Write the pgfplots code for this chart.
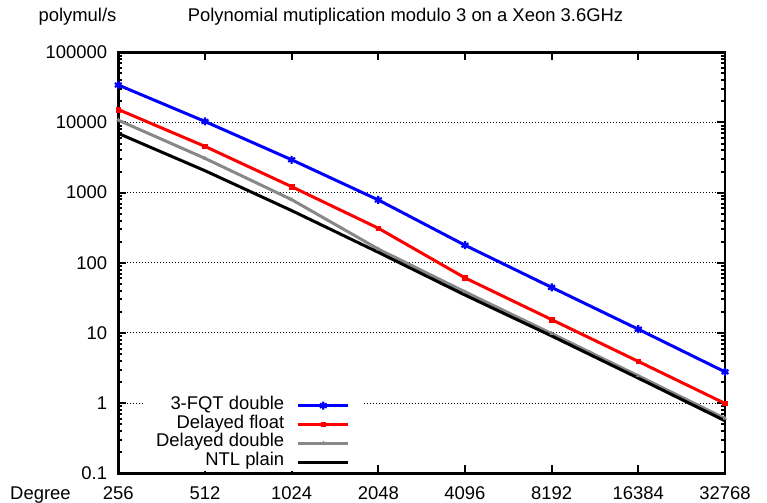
\documentclass[border=0pt]{standalone}
\usepackage{fontspec}
\setmainfont{Liberation Sans}
\usepackage{pgfplots}
\pgfplotsset{compat=1.18}
\definecolor{lgray}{RGB}{136,136,136}
\begin{document}
\begin{tikzpicture}
\fontsize{18.5}{22}\selectfont
\begin{axis}[
  at={(0,0)}, anchor=south west,
  scale only axis, width=606.7bp, height=421bp,
  font=\fontsize{18.5}{22}\selectfont,
  /pgf/number format/assume math mode=true,
  ymode=log, ymin=0.1, ymax=100000,
  xmin=0, xmax=7,
  xtick={0,1,2,3,4,5,6,7},
  xticklabels={256,512,1024,2048,4096,8192,16384,32768},
  ytick={0.1,1,10,100,1000,10000,100000},
  yticklabels={0.1,1,10,100,1000,10000,100000},
  minor ytick={0.2,0.3,0.4,0.5,0.6,0.7,0.8,0.9,2,3,4,5,6,7,8,9,20,30,40,50,60,70,80,90,200,300,400,500,600,700,800,900,2000,3000,4000,5000,6000,7000,8000,9000,20000,30000,40000,50000,60000,70000,80000,90000},
  minor xtick={},
  tick align=inside,
  major tick length=8bp, minor tick length=4bp,
  every tick/.style={black, line width=2bp},
  axis line style={line width=2.8bp},
  ymajorgrids,
  major grid style={black, line width=1bp, dash pattern=on 1bp off 2bp},
  yticklabel style={inner xsep=0pt, xshift=-11bp},
  xticklabel style={inner ysep=0pt, yshift=-13bp},
  clip=false,
  legend plot pos=right,
  legend cell align=right,
  legend image code/.code={\draw[mark repeat=2,mark phase=2] plot coordinates {(0bp,0bp) (25bp,0bp) (50bp,0bp)};},
  legend style={at={(0.4017,0.1836)}, anchor=north east, draw=none, fill=white,
    inner xsep=12bp, inner ysep=0pt, column sep=12.6bp, row sep=0pt,
    font=\fontsize{18.5}{22}\selectfont,
    nodes={inner sep=0pt, text height=13bp, text depth=5.8bp}},
]
\addplot[blue, line width=3bp, mark=asterisk, mark size=4bp, mark options={solid, line width=2.2bp}] coordinates {
 (0,34200) (1,10330) (2,2940) (3,787) (4,178) (5,44.6) (6,11.3) (7,2.79)};
\addlegendentry{3-FQT double}
\addplot[red, line width=3bp, mark=square*, mark size=2.3bp, mark options={solid, line width=0.5bp}] coordinates {
 (0,15300) (1,4560) (2,1217) (3,311) (4,61) (5,15.5) (6,3.93) (7,0.99)};
\addlegendentry{Delayed float}
\addplot[lgray, line width=3bp, mark=triangle*, mark size=2bp, mark options={solid, line width=0.5bp}] coordinates {
 (0,10790) (1,3080) (2,795) (3,157) (4,38.6) (5,9.8) (6,2.45) (7,0.605)};
\addlegendentry{Delayed double}
\addplot[black, line width=3bp, mark=none] coordinates {
 (0,6980) (1,2053) (2,555) (3,141) (4,34.7) (5,9.06) (6,2.27) (7,0.56)};
\addlegendentry{NTL plain}
\end{axis}
\node[anchor=base, inner sep=0pt] at (-40.8bp,452bp) {polymul/s};
\node[anchor=base, inner sep=0pt] at (287.2bp,452bp) {Polynomial mutiplication modulo 3 on a Xeon 3.6GHz};
\node[anchor=base west, inner sep=0pt] at (-108.3bp,-26.3bp) {Degree};
\pgfresetboundingbox
\useasboundingbox (-118.3bp,-29.7bp) rectangle (648.7bp,473.3bp);
\end{tikzpicture}
\end{document}
